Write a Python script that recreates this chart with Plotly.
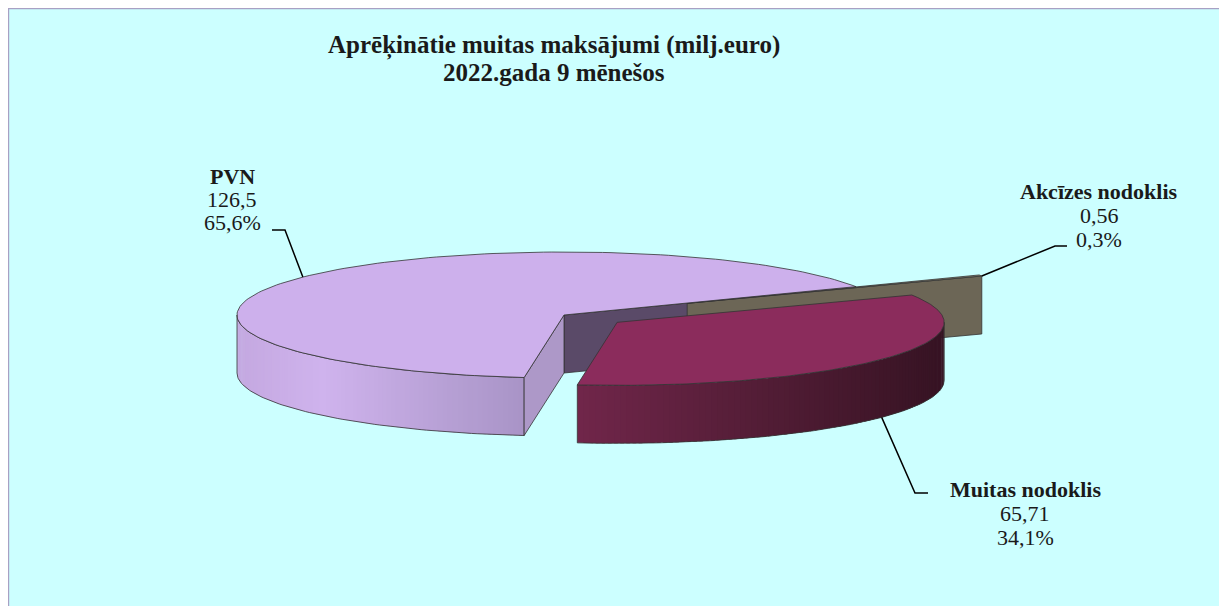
import numpy as np
import plotly.graph_objects as go

# ---------------- data ----------------
labels = ["PVN", "Akcīzes nodoklis", "Muitas nodoklis"]
values = [126.5, 0.56, 65.71]
value_text = ["126,5", "0,56", "65,71"]
title_lines = ["Aprēķinātie muitas maksājumi (milj.euro)", "2022.gada 9 mēnešos"]

# ---------------- styling / layout constants ----------------
PAGE_OFF = 8               # browser body margin
W, H = 1227, 606
CX, CY = 564, 315          # pie centre (top face), page pixels
RX, RY = 327, 63           # ellipse radii
DEPTH = 58                 # pie thickness
START = 263                # start angle (deg, math), slices go clockwise
EXPLODE = [0.0, 0.42, 0.2]
TOP_COL = ["#CDB0EC", "#8C8470", "#8B2C5C"]
FACE_CW = ["#5A4A68", "#6C6656", "#6A2245"]
FACE_CCW = ["#AD98C8", "#5E5848", "#5A1C3A"]
WALL_STOPS = [
    [(0.0, (196, 168, 224)), (0.3, (207, 179, 237)), (1.0, (168, 148, 198))],
    [(0.0, (110, 104, 88)), (1.0, (90, 85, 72))],
    [(0.0, (112, 38, 74)), (0.55, (80, 28, 52)), (1.0, (54, 19, 35))],
]
EDGE = "#333333"
LABEL_X = [232, 1099, 1025]
LABEL_Y = [[176, 199, 222], [191, 215, 239], [489, 513, 537]]
LEADERS = [[(272, 230), (285, 230)], [(1067, 246), (1055, 246)], [(928, 493), (915, 493)]]
FONT = "Liberation Serif, Times New Roman, serif"
LABEL_SIZE = 22
TITLE_SIZE = 25

total = sum(values)
percents = [v / total * 100 for v in values]

bounds = []
a = START
for v in values:
    span = 360 * v / total
    bounds.append((a - span, a))   # (cw end, ccw end)
    a -= span


def offset(i):
    lo, hi = bounds[i]
    m = np.radians((lo + hi) / 2)
    e = EXPLODE[i]
    return CX + e * RX * np.cos(m), CY - e * RY * np.sin(m)


def arc(cx, cy, t0, t1, z=0, n=80):
    t = np.radians(np.linspace(t0, t1, n))
    return list(cx + RX * np.cos(t)), list(cy - RY * np.sin(t) + z)


def interp(stops, f):
    for (f0, c0), (f1, c1) in zip(stops[:-1], stops[1:]):
        if f <= f1:
            k = 0 if f1 == f0 else (f - f0) / (f1 - f0)
            return "rgb(%d,%d,%d)" % tuple(int(round(c0[j] + (c1[j] - c0[j]) * k)) for j in range(3))
    return "rgb(%d,%d,%d)" % stops[-1][1]


fig = go.Figure()


def poly(xs, ys, fill, line=EDGE, lw=0.8):
    fig.add_trace(go.Scatter(x=xs + [xs[0]], y=ys + [ys[0]], mode="lines", fill="toself",
                             fillcolor=fill, line=dict(color=line, width=lw),
                             hoverinfo="skip", showlegend=False))


def radial_face(i, ang, col):
    cx, cy = offset(i)
    t = np.radians(ang)
    ox, oy = cx + RX * np.cos(t), cy - RY * np.sin(t)
    poly([cx, ox, ox, cx], [cy, oy, oy + DEPTH, cy + DEPTH], col)


def wall(i, t0, t1, nstrip=90):
    if t1 <= t0:
        return
    cx, cy = offset(i)
    edges = np.linspace(t0, t1, nstrip + 1)
    step = edges[1] - edges[0]
    xs_all = [cx + RX * np.cos(np.radians(e)) for e in edges]
    xmin, xmax = min(xs_all), max(xs_all)
    for s0, s1 in zip(edges[:-1], edges[1:]):
        e1 = min(s1 + step * 0.6, t1)
        xt, yt = arc(cx, cy, s0, e1, 0, 5)
        xb, yb = arc(cx, cy, e1, s0, DEPTH, 5)
        xm = cx + RX * np.cos(np.radians((s0 + s1) / 2))
        f = (xm - xmin) / (xmax - xmin) if xmax > xmin else 0
        col = interp(WALL_STOPS[i], f)
        poly(xt + xb, yt + yb, col, line=col, lw=0)
    xt, yt = arc(cx, cy, t0, t1, 0)
    xb, yb = arc(cx, cy, t1, t0, DEPTH)
    fig.add_trace(go.Scatter(x=xt + xb + [xt[0]], y=yt + yb + [yt[0]], mode="lines",
                             line=dict(color=EDGE, width=0.8), hoverinfo="skip", showlegend=False))


def top(i):
    cx, cy = offset(i)
    lo, hi = bounds[i]
    xs, ys = arc(cx, cy, lo, hi, 0, 160)
    poly([cx] + xs, [cy] + ys, TOP_COL[i])


def visible_wall_range(lo, hi):
    res = []
    for base in (-360, 0, 360):
        a0, a1 = max(lo, 180 + base), min(hi, 360 + base)
        if a1 > a0:
            res.append((a0, a1))
    return res


P, A, M = 0, 1, 2
radial_face(P, bounds[P][0], FACE_CW[P])
radial_face(A, bounds[A][0], FACE_CW[A])
for r in visible_wall_range(*bounds[A]):
    wall(A, *r, nstrip=2)
top(A)
for r in visible_wall_range(*bounds[P]):
    wall(P, *r)
radial_face(P, bounds[P][1], FACE_CCW[P])
top(P)
for r in visible_wall_range(*bounds[M]):
    wall(M, *r)
top(M)

# ---------------- labels ----------------
anchors = []
cx, cy = offset(P)
t = np.radians(143)
anchors.append((cx + RX * np.cos(t), cy - RY * np.sin(t)))
cx, cy = offset(A)
t = np.radians(bounds[A][0])
anchors.append((cx + RX * np.cos(t), cy - RY * np.sin(t)))
cx, cy = offset(M)
t = np.radians(-36)
anchors.append((cx + RX * np.cos(t), cy - RY * np.sin(t) + DEPTH))

for i in range(3):
    (x1, y1), (x2, y2) = LEADERS[i]
    ax, ay = anchors[i]
    fig.add_trace(go.Scatter(x=[x1, x2, ax], y=[y1, y2, ay], mode="lines",
                             line=dict(color="black", width=1.5),
                             hoverinfo="skip", showlegend=False))
    pct = ("%.1f" % percents[i]).replace(".", ",") + "%"
    lines = ["<b>%s</b>" % labels[i], value_text[i], pct]
    for txt, yy in zip(lines, LABEL_Y[i]):
        fig.add_annotation(x=LABEL_X[i], y=yy, xref="x", yref="y", text=txt,
                           showarrow=False, xanchor="center", yanchor="middle",
                           font=dict(family=FONT, size=LABEL_SIZE, color="#1a1a1a"))

for txt, yy in zip(title_lines, [45, 72]):
    fig.add_annotation(x=554, y=yy, xref="x", yref="y", text="<b>%s</b>" % txt,
                       showarrow=False, xanchor="center", yanchor="middle",
                       font=dict(family=FONT, size=TITLE_SIZE, color="#1a1a1a"))

fig.add_shape(type="rect", xref="x", yref="y", x0=8.6, y0=8.6, x1=1240, y1=620,
              fillcolor="#CCFFFF", line=dict(color="#A8A0C4", width=1.2), layer="below")

fig.update_layout(
    width=W - PAGE_OFF, height=H - PAGE_OFF, margin=dict(l=0, r=0, t=0, b=0),
    paper_bgcolor="white", plot_bgcolor="rgba(0,0,0,0)",
    xaxis=dict(range=[PAGE_OFF, W], visible=False, fixedrange=True),
    yaxis=dict(range=[H, PAGE_OFF], visible=False, fixedrange=True),
    showlegend=False,
)

fig.write_html("out.html")
